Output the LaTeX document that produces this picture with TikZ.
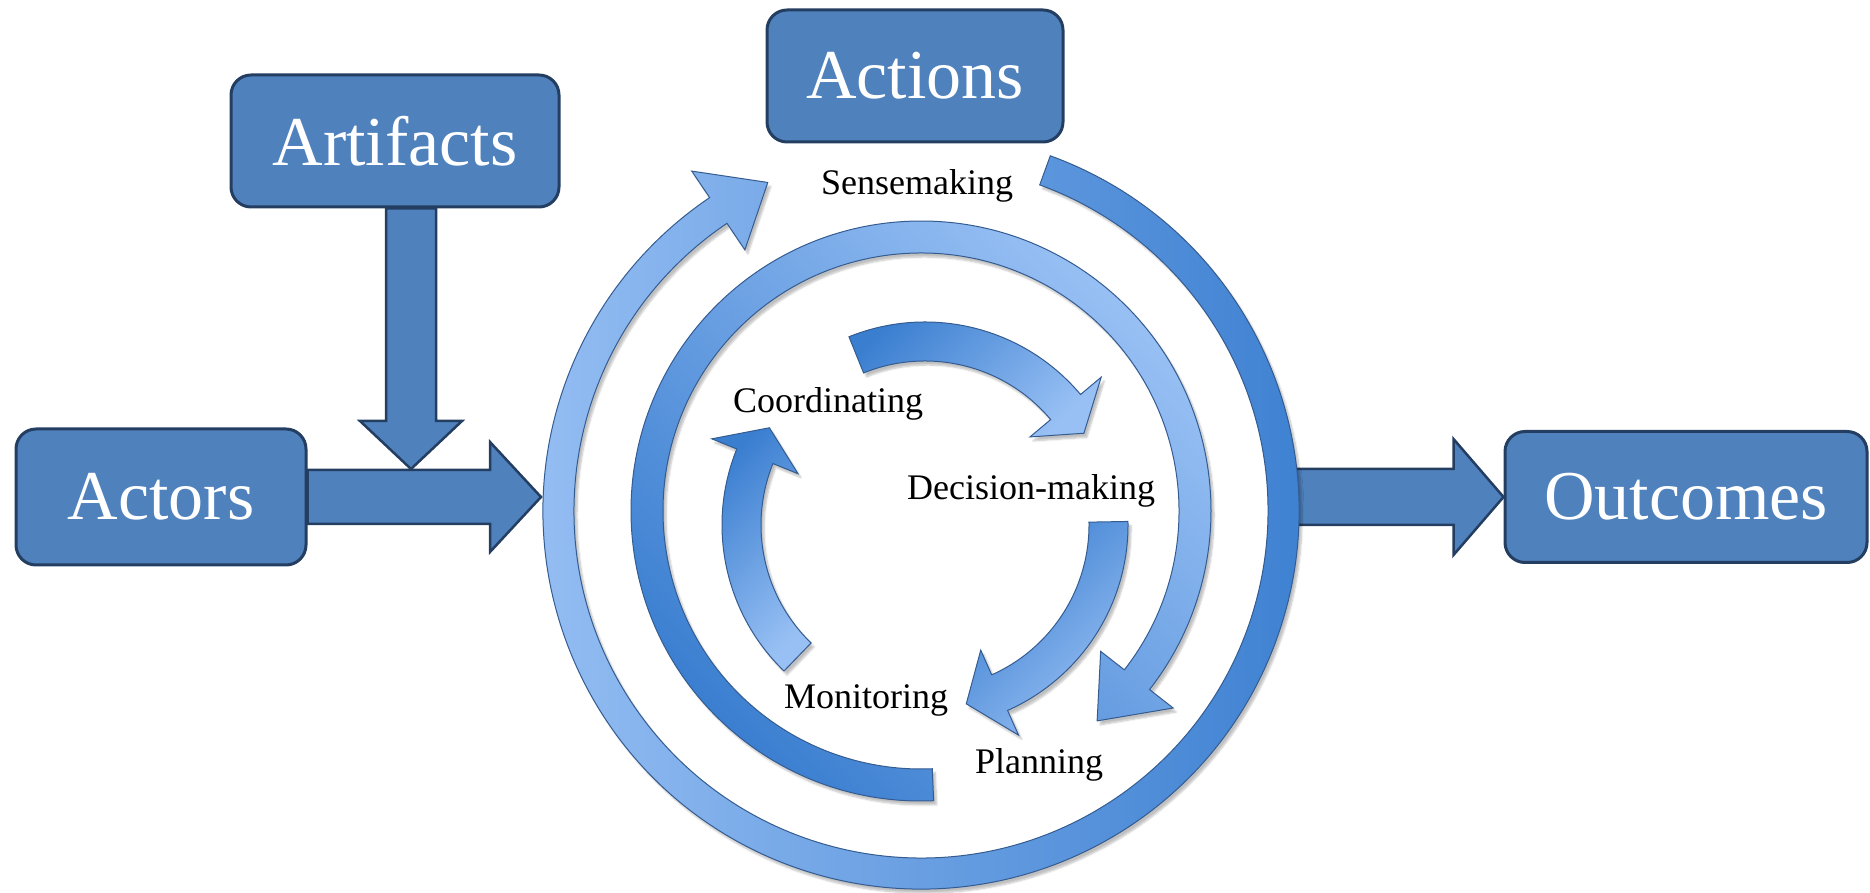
\documentclass[tikz,border=0pt]{standalone}
\usepackage{fontspec}
\setmainfont{Liberation Serif}
\usetikzlibrary{calc,shadows.blur}

\definecolor{boxblue}{RGB}{79,129,189}
\definecolor{boxline}{RGB}{36,62,98}
\definecolor{ringdark}{RGB}{58,126,208}
\definecolor{ringlight}{RGB}{152,192,244}
\definecolor{ringline}{RGB}{52,92,145}

\tikzset{
  box/.style={draw=boxline, line width=3pt, fill=boxblue, rounded corners=20pt,
    text=white, font=\fontsize{70}{84}\selectfont, inner sep=0pt},
  lbl/.style={font=\fontsize{36}{43}\selectfont, anchor=base},
  fatarrow/.style={fill=boxblue, draw=boxline, line width=2.5pt},
  curl/.style={draw=ringline, line width=1pt,
    blur shadow={shadow xshift=3pt, shadow yshift=-4pt, shadow blur steps=6, shadow opacity=25}},
}

% straight block arrow: from, to, shaft half width, head half width, head length
\newcommand{\fatarrow}[5]{%
  \coordinate (fa-b) at ($(#2)!#5!(#1)$);
  \filldraw[fatarrow] ($(#1)!#3!90:(#2)$) -- ($(fa-b)!#3!90:(#2)$) -- ($(fa-b)!#4!90:(#2)$)
    -- (#2) -- ($(fa-b)!#4!-90:(#2)$) -- ($(fa-b)!#3!-90:(#2)$) -- ($(#1)!#3!-90:(#2)$) -- cycle;
}

% curved block arrow: centre, inner r, outer r, start, head base, tip, head overhang, options
\newcommand{\curlarrow}[8]{%
  \pgfmathsetlengthmacro{\curlmid}{(#2+#3)/2*1pt}
  \pgfmathsetlengthmacro{\curlout}{(#3+#7)*1pt}
  \pgfmathsetlengthmacro{\curlin}{(#2-#7)*1pt}
  \path[#8] ($(#1)+(#4:#3pt)$) arc[start angle=#4, end angle=#5, radius=#3pt]
    -- ($(#1)+(#5:\curlout)$) -- ($(#1)+(#6:\curlmid)$) -- ($(#1)+(#5:\curlin)$)
    -- ($(#1)+(#5:#2pt)$) arc[start angle=#5, end angle=#4, radius=#2pt] -- cycle;
}

\begin{document}
\begin{tikzpicture}[x=1pt, y=1pt]
  \useasboundingbox (0,0) rectangle (1870,892);
  \coordinate (C0) at (921,381);
  \coordinate (C1) at (925,367);

  \draw
    (161,395) node[box, minimum width=290pt, minimum height=136pt] (actors) {Actors}
    (395,751) node[box, minimum width=328pt, minimum height=132pt] (artifacts) {Artifacts}
    (915,816) node[box, minimum width=296pt, minimum height=132pt] (actions) {Actions}
    (1686,395) node[box, minimum width=362pt, minimum height=131pt] (outcomes) {Outcomes};

  % block arrows
  \coordinate (actin) at (541,395);
  \coordinate (merge) at (411,423);
  \coordinate (artout) at ($(artifacts.south)+(16,0)$);
  \coordinate (ringout) at (1290,395);
  \fatarrow{actors.east}{actin}{27pt}{55pt}{51pt}
  \fatarrow{artout}{merge}{25pt}{51pt}{48pt}
  \fatarrow{ringout}{outcomes.west}{28pt}{58pt}{50pt}

  % outer cycle
  \curlarrow{C0}{347}{378}{70}{-236}{-245}{32}{curl, left color=ringlight, right color=ringdark}
  \curlarrow{C0}{258}{290}{-87.5}{-398}{-410}{30}{curl, top color=ringlight, bottom color=ringdark, shading angle=-45}

  % inner cycle
  \curlarrow{C1}{164}{203}{112}{40}{30}{27}{curl, top color=ringdark, bottom color=ringlight, shading angle=45}
  \curlarrow{C1}{164}{203}{1}{-66}{-77}{27}{curl, top color=ringdark, bottom color=ringlight, shading angle=45}
  \curlarrow{C1}{164}{203}{-134}{-202}{-212}{27}{curl, top color=ringdark, bottom color=ringlight, shading angle=45}

  \draw
    (917,697) node[lbl] (sense) {Sensemaking}
    (828,479) node[lbl] (coord) {Coordinating}
    (1031,392) node[lbl] (decis) {Decision-making}
    (866,184) node[lbl] (monit) {Monitoring}
    (1039,119) node[lbl] (plann) {Planning};
\end{tikzpicture}
\end{document}
